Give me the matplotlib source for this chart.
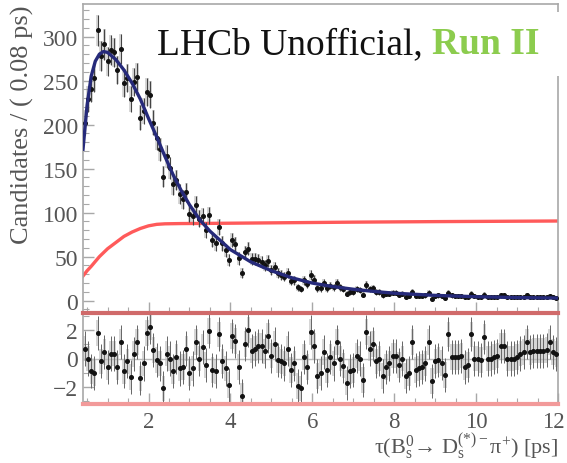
import numpy as np
import matplotlib
matplotlib.use("Agg")
import matplotlib.pyplot as plt
import matplotlib.transforms as mtransforms
from matplotlib.patches import Rectangle
from matplotlib.ticker import MultipleLocator

# Decay-time histogram, 0.08 ps bins from 0.4 to 12 ps
bin_width = 0.08
t_lo, t_hi = 0.4, 12.0

counts = [
    202, 229, 241, 253, 307, 278, 291, 272, 285, 282,
    262, 286, 247, 253, 229, 248, 254, 208, 215, 237,
    234, 202, 185, 172, 141, 164, 151, 132, 137, 121,
    115, 123, 99, 96, 109, 93, 96, 80, 97, 69,
    65, 84, 65, 57, 46, 69, 64, 48, 31, 55,
    59, 47, 47, 46, 44, 40, 45, 35, 38, 31,
    29, 27, 31, 22, 23, 15, 13, 23, 19, 29,
    24, 14, 14, 20, 14, 17, 15, 20, 15, 13,
    8, 10, 10, 13, 12, 7, 18, 13, 14, 10,
    10, 6, 8, 8, 9, 9, 7, 8, 4, 5,
    10, 5, 5, 5, 6, 9, 2, 5, 6, 5,
    3, 9, 6, 5, 5, 5, 4, 4, 8, 5,
    4, 4, 7, 4, 4, 4, 4, 6, 6, 4,
    4, 4, 4, 4, 4, 6, 4, 4, 4, 4,
    4, 4, 5, 4, 3,
]

pulls = [
    0.7, 0.0, -0.9, -1.0, 1.8, -0.2, 0.45, -0.6, 0.35, 0.35,
    -0.6, 1.15, -0.9, -0.2, -1.3, 0.3, 1.15, -1.4, -0.35, 1.8,
    2.2, 0.6, -0.1, -0.35, -2.1, 0.35, 0.0, -0.9, 0.1, -0.7,
    -0.6, 0.7, -1.0, -0.7, 1.15, 0.0, 0.8, -0.45, 1.95, -0.8,
    -0.9, 1.7, -0.2, -0.7, -1.85, 1.6, 1.25, -0.6,
    -2.65, 1.0, 2.0, 0.55, 0.7, 0.9, 0.9, 0.5, 1.6, 0.2,
    1.0, -0.1, -0.2, -0.35, 0.7, -0.8, -0.35, -1.95, -2.1, 0.1,
    -0.6, 1.85, 0.9, -1.25, -1.0, 0.45, -0.8, 0.1, -0.35, 1.15,
    0.0, -0.5, -1.7, -0.9, -0.8, 0.2, 0.0, -1.5, 1.85, 0.7,
    1.0, -0.2, 0.0, -1.25, -0.6, -0.35, 0.2, 0.2, -0.45,
    0.0, -1.25, -1.0, 1.15, -0.8, -0.7, -0.6, -0.35, 1.15, -1.6,
    -0.2, -0.1, -0.3, -1.15, 1.7, 0.1, 0.1, 0.1, 0.2, -0.6,
    -0.45, 1.7, 0.0, 0.0, -0.1, 1.5, 0.0, 0.0, 0.1, 0.2,
    0.9, 0.9, 0.0, 0.0, 0.0, 0.1, 0.35, 0.45, 1.15, 0.45,
    0.55, 0.55, 0.55, 0.55, 0.6, 1.15, 0.45, 0.3,
]

# Total fit model
fit_t = [0.40, 0.50, 0.60, 0.70, 0.80, 0.90, 1.00, 1.20, 1.40, 1.60,
         1.80, 2.00, 2.20, 2.40, 2.60, 2.80, 3.00, 3.25, 3.50, 4.00,
         4.50, 5.00, 5.50, 6.00, 6.50, 7.00, 7.50, 8.00, 9.00, 10.0,
         11.0, 12.0]
fit_total = [172, 222, 255, 272, 280, 283, 282, 274, 262, 247,
             229, 207, 186, 164, 143, 125, 109, 92, 79, 58,
             44, 34, 26, 20, 16, 13, 10.5, 8.5, 6, 4.5,
             3.5, 3]

# Acceptance-shaped component
acc_t = [0.40, 0.50, 0.60, 0.80, 1.00, 1.20, 1.40, 1.60, 1.80, 2.00,
         2.20, 2.40, 2.80, 3.50, 5.00, 7.00, 9.00, 12.0]
acc_curve = [28, 34, 39, 50, 59, 66, 73, 78, 82, 85,
             86.7, 87.3, 87.6, 87.8, 88.4, 89.2, 89.8, 90.5]

x_ticks = [2, 4, 6, 8, 10, 12]
y_ticks_pull = [-2, 0, 2]

plt.rcParams['font.family'] = ['Liberation Serif', 'DejaVu Serif']
plt.rcParams['mathtext.fontset'] = 'custom'
plt.rcParams['mathtext.rm'] = 'Liberation Serif'
plt.rcParams['mathtext.it'] = 'Liberation Serif:italic'

counts = np.array(counts, dtype=float)
pulls = np.array(pulls, dtype=float)
centers = t_lo + bin_width * (np.arange(len(counts)) + 0.5)
errs = np.sqrt(np.maximum(counts, 1.0))

W, H = 567, 464
fig = plt.figure(figsize=(W / 100, H / 100), dpi=100)
x0, x1 = 83, 558
ax1 = fig.add_axes([x0 / W, 1 - 314 / H, (x1 - x0) / W, (314 - 5) / H])
ax2 = fig.add_axes([x0 / W, 1 - 405 / H, (x1 - x0) / W, (405 - 314) / H], sharex=ax1)

frame_col = '#a8a8a8'
label_col = '#555555'

# upper panel: data, uncertainty boxes, fit components
ax1.bar(centers, 2 * errs, bottom=counts - errs, width=bin_width,
        color='#cdcdcd', alpha=0.8, linewidth=0, zorder=1)
ax1.errorbar(centers, counts, yerr=errs, fmt='o', ms=2.6, color='#111111',
             ecolor='#444444', elinewidth=0.8, capsize=0, zorder=3)
ax1.plot(acc_t, acc_curve, color='#ff5a5a', lw=2.4, zorder=2)
ax1.plot(fit_t, fit_total, color='#262a7a', lw=2.4, zorder=4)
ax1.set_xlim(t_lo, t_hi)
ax1.set_ylim(-14, 337)
ax1.yaxis.set_major_locator(MultipleLocator(50))
ax1.yaxis.set_minor_locator(MultipleLocator(10))
ax1.xaxis.set_minor_locator(MultipleLocator(0.5))

# lower panel: pulls
ax2.bar(centers, 1.8, bottom=pulls - 0.9, width=bin_width,
        color='#cfcfcf', alpha=0.85, linewidth=0, zorder=1)
ax2.errorbar(centers, pulls, yerr=1.2, fmt='o', ms=2.6, color='#111111',
             ecolor='#666666', elinewidth=0.7, capsize=0, zorder=3)
ax2.axhline(0, color='#bbbbbb', lw=1, zorder=2)
ax2.set_ylim(-3.2, 3.2)
ax2.axhline(3.2, color='#d06a6a', lw=3, zorder=5, clip_on=False)
ax2.axhline(-3.2, color='#f29a9a', lw=3, zorder=5, clip_on=False)
ax2.set_yticks(y_ticks_pull)
ax2.yaxis.set_minor_locator(MultipleLocator(1))
ax2.set_xlim(t_lo, t_hi)
ax2.set_xticks(x_ticks)
ax1.tick_params(labelbottom=False)

for ax in (ax1, ax2):
    for sp in ax.spines.values():
        sp.set_color(frame_col)
        sp.set_linewidth(1.2)
    ax.tick_params(which='both', direction='in', color=frame_col,
                   labelcolor=label_col, labelsize=17, top=False, right=False)
    ax.tick_params(which='major', length=8, width=1)
    ax.tick_params(which='minor', length=4, width=0.8)

ax2.tick_params(axis='x', pad=5, labelsize=16.5)
# keep the last tick label inside the canvas
edge_shift = mtransforms.ScaledTranslation(-5 / 100, 0, fig.dpi_scale_trans)
last_label = ax2.xaxis.get_major_ticks()[-1].label1
last_label.set_transform(last_label.get_transform() + edge_shift)

ax2.set_xlabel('τ(B$_\\mathrm{s}^0$→ D$_\\mathrm{s}^{(*)-}$π$^{+}$) [ps]',
               fontsize=16, color=label_col, ha='right')
ax2.xaxis.set_label_coords(1.0, -(447 - 405) / 91, transform=ax2.transAxes)
ax2.xaxis.label.set_verticalalignment('center')

fig.text(22 / W, 1 - 5 / H, 'Candidates / ( 0.08 ps)', rotation=90,
         ha='center', va='top', fontsize=19, color=label_col)

# experiment label on a white patch
fig.patches.append(Rectangle((150 / W, 1 - 77 / H), (W - 150) / W, 64 / H,
                             transform=fig.transFigure, facecolor='white',
                             edgecolor='none', zorder=5))
t1 = fig.text(157 / W, 1 - 45 / H, 'LHCb Unofficial, ', fontsize=27,
              color='#111111', ha='left', va='center', zorder=6)
fig.canvas.draw()
bb = t1.get_window_extent(renderer=fig.canvas.get_renderer())
fig.text(bb.x1 / W, 1 - 45 / H, 'Run II', fontsize=27, fontweight='bold',
         color='#8ccc4e', ha='left', va='center', zorder=6)

fig.savefig('out.png', dpi=100)
